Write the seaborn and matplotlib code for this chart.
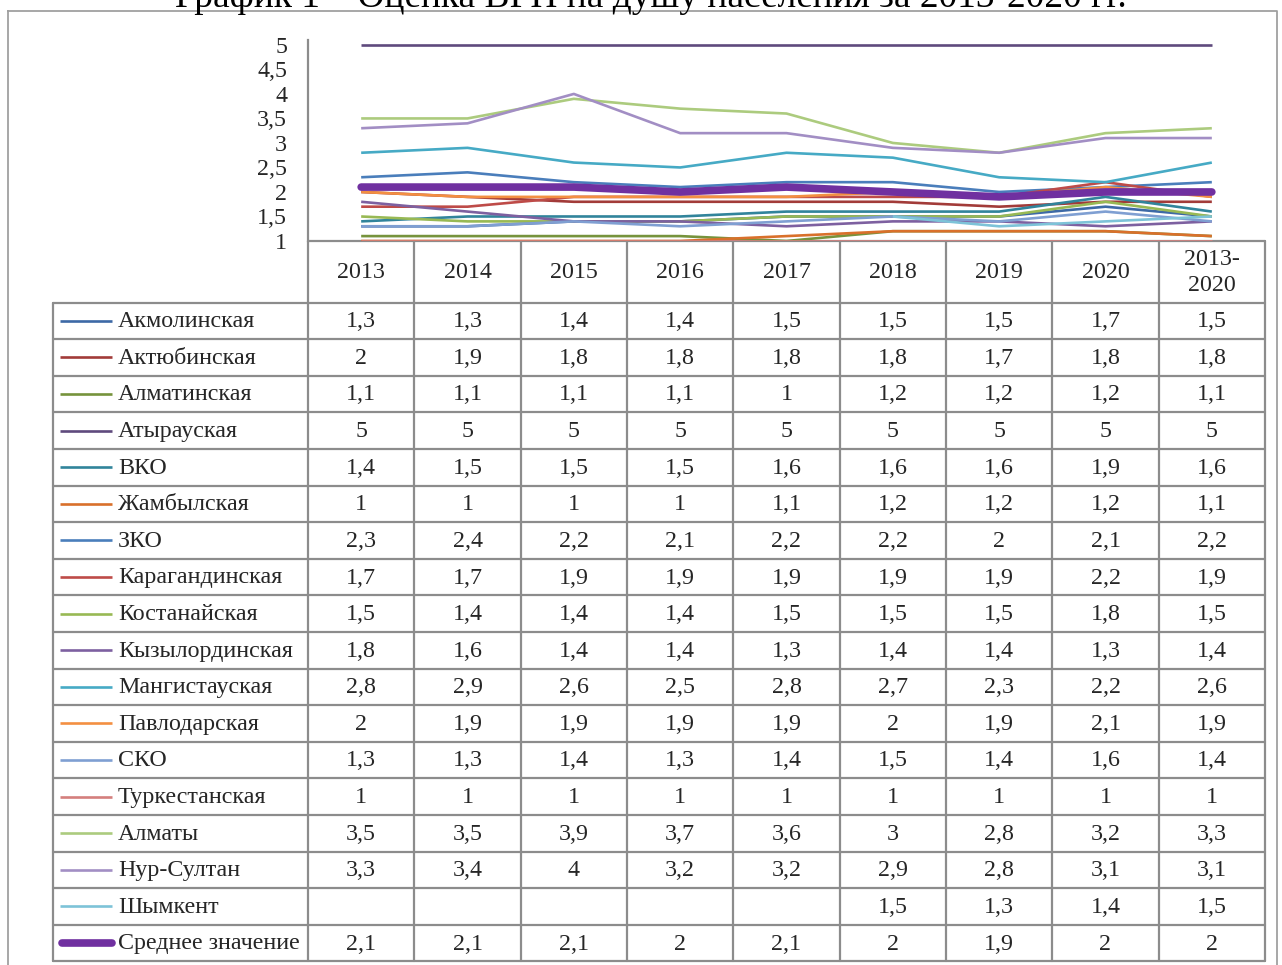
import numpy as np
import pandas as pd
import matplotlib
matplotlib.use("Agg")
import matplotlib.pyplot as plt
import seaborn as sns

# ---------------- data ----------------
periods = ["2013", "2014", "2015", "2016", "2017", "2018", "2019", "2020", "2013-\n2020"]
regions = ["Акмолинская", "Актюбинская", "Алматинская", "Атырауская", "ВКО", "Жамбылская",
           "ЗКО", "Карагандинская", "Костанайская", "Кызылординская", "Мангистауская",
           "Павлодарская", "СКО", "Туркестанская", "Алматы", "Нур-Султан", "Шымкент",
           "Среднее значение"]
akmola = [1.3, 1.3, 1.4, 1.4, 1.5, 1.5, 1.5, 1.7, 1.5]
aktobe = [2, 1.9, 1.8, 1.8, 1.8, 1.8, 1.7, 1.8, 1.8]
almaty_obl = [1.1, 1.1, 1.1, 1.1, 1, 1.2, 1.2, 1.2, 1.1]
atyrau = [5, 5, 5, 5, 5, 5, 5, 5, 5]
vko = [1.4, 1.5, 1.5, 1.5, 1.6, 1.6, 1.6, 1.9, 1.6]
zhambyl = [1, 1, 1, 1, 1.1, 1.2, 1.2, 1.2, 1.1]
zko = [2.3, 2.4, 2.2, 2.1, 2.2, 2.2, 2, 2.1, 2.2]
karaganda = [1.7, 1.7, 1.9, 1.9, 1.9, 1.9, 1.9, 2.2, 1.9]
kostanay = [1.5, 1.4, 1.4, 1.4, 1.5, 1.5, 1.5, 1.8, 1.5]
kyzylorda = [1.8, 1.6, 1.4, 1.4, 1.3, 1.4, 1.4, 1.3, 1.4]
mangistau = [2.8, 2.9, 2.6, 2.5, 2.8, 2.7, 2.3, 2.2, 2.6]
pavlodar = [2, 1.9, 1.9, 1.9, 1.9, 2, 1.9, 2.1, 1.9]
sko = [1.3, 1.3, 1.4, 1.3, 1.4, 1.5, 1.4, 1.6, 1.4]
turkestan = [1, 1, 1, 1, 1, 1, 1, 1, 1]
almaty_city = [3.5, 3.5, 3.9, 3.7, 3.6, 3, 2.8, 3.2, 3.3]
nursultan = [3.3, 3.4, 4, 3.2, 3.2, 2.9, 2.8, 3.1, 3.1]
shymkent = [None, None, None, None, None, 1.5, 1.3, 1.4, 1.5]
average = [2.1, 2.1, 2.1, 2, 2.1, 2, 1.9, 2, 2]
series = [akmola, aktobe, almaty_obl, atyrau, vko, zhambyl, zko, karaganda, kostanay,
          kyzylorda, mangistau, pavlodar, sko, turkestan, almaty_city, nursultan,
          shymkent, average]
y_ticks = [1, 1.5, 2, 2.5, 3, 3.5, 4, 4.5, 5]
title = "График 1 – Оценка ВРП на душу населения за 2013-2020 гг."

colors = ["#3D69A6", "#A23B39", "#76933C", "#5F4A7D", "#31849B", "#D9702B",
          "#4A7EBB", "#BE4B48", "#98B954", "#7D60A0", "#46AAC5", "#F38F42",
          "#7F9FD2", "#D47F7D", "#ACCB7E", "#A28EC4", "#7DC3D8", "#7030A0"]

# ---------------- figure ----------------
W, H = 1282, 965
FS = 17.3
sns.set_theme(style="white")
plt.rcParams["font.family"] = ["Liberation Serif", "DejaVu Serif"]
fig = plt.figure(figsize=(W / 100, H / 100), dpi=100)

# overlay axes in pixel coords for frame / table
tab = fig.add_axes([0, 0, 1, 1])
tab.set_xlim(0, W)
tab.set_ylim(H, 0)
tab.axis("off")

# plot area
x0, x1 = 308, 1265
y_top, y_bot = 40, 241
ax = fig.add_axes([x0 / W, 1 - y_bot / H, (x1 - x0) / W, (y_bot - y_top) / H])

rows = []
for name, vals in zip(regions, series):
    for i, v in enumerate(vals):
        if v is not None:
            rows.append({"region": name, "x": i, "value": v})
df = pd.DataFrame(rows)

for k, name in enumerate(regions):
    sub = df[df["region"] == name]
    lw = 5.5 if name == "Среднее значение" else 1.9
    sns.lineplot(data=sub, x="x", y="value", color=colors[k], lw=lw, ax=ax,
                 legend=False, solid_capstyle="round" if lw > 3 else "butt", zorder=3 + k)

ax.set_xlim(-0.5, len(periods) - 0.5)
ax.set_ylim(1, 5.1)
ax.set_yticks(y_ticks)
ax.set_yticklabels([("%g" % t).replace(".", ",") for t in y_ticks], fontsize=FS)
ax.set_xticks([])
ax.set_xlabel("")
ax.set_ylabel("")
ax.tick_params(axis="y", length=0, pad=15)
for s in ["top", "right", "bottom"]:
    ax.spines[s].set_visible(False)
ax.spines["left"].set_color("#8C8C8C")
ax.spines["left"].set_linewidth(1.6)
ax.patch.set_alpha(0)

# outer frame
gray = "#8C8C8C"
tab.plot([8, 1277, 1277, 8, 8], [11, 11, 975, 975, 11], color="#A0A0A0", lw=1.3, clip_on=False)

# title (clipped at top edge, as in the reference)
fig.text(651 / W, 1 - 7 / H, title, ha="center", va="baseline", fontsize=26.9, color="black")

# table geometry
col_w = (x1 - x0) / len(periods)
header_top, header_bot = 241, 302.5
row_h = 36.6
label_x0 = 53
n = len(regions)
table_bot = header_bot + n * row_h

# header grid
tab.plot([x0, x1], [header_top, header_top], color=gray, lw=1.6, zorder=1)
for i in range(len(periods) + 1):
    xx = x0 + i * col_w
    tab.plot([xx, xx], [header_top, table_bot], color=gray, lw=1.6)
for j, p in enumerate(periods):
    tab.text(x0 + (j + 0.5) * col_w, (header_top + header_bot) / 2 + 1, p,
             ha="center", va="center", fontsize=FS, linespacing=1.3)
# rows
for r in range(n + 1):
    yy = header_bot + r * row_h
    tab.plot([label_x0, x1], [yy, yy], color=gray, lw=1.6)
tab.plot([label_x0, label_x0], [header_bot, table_bot], color=gray, lw=1.6)


def fmt(v):
    if v is None:
        return ""
    return ("%g" % v).replace(".", ",")


for r, (name, vals) in enumerate(zip(regions, series)):
    cy = header_bot + (r + 0.5) * row_h
    thick = name == "Среднее значение"
    tab.plot([62 if thick else 60, 112], [cy, cy], color=colors[r],
             lw=5.5 if thick else 1.9, solid_capstyle="round" if thick else "butt")
    tab.text(118, cy + 1, name, ha="left", va="center", fontsize=FS)
    for j, v in enumerate(vals):
        tab.text(x0 + (j + 0.5) * col_w, cy + 1, fmt(v), ha="center", va="center",
                 fontsize=FS)

fig.savefig("out.png", dpi=100)
